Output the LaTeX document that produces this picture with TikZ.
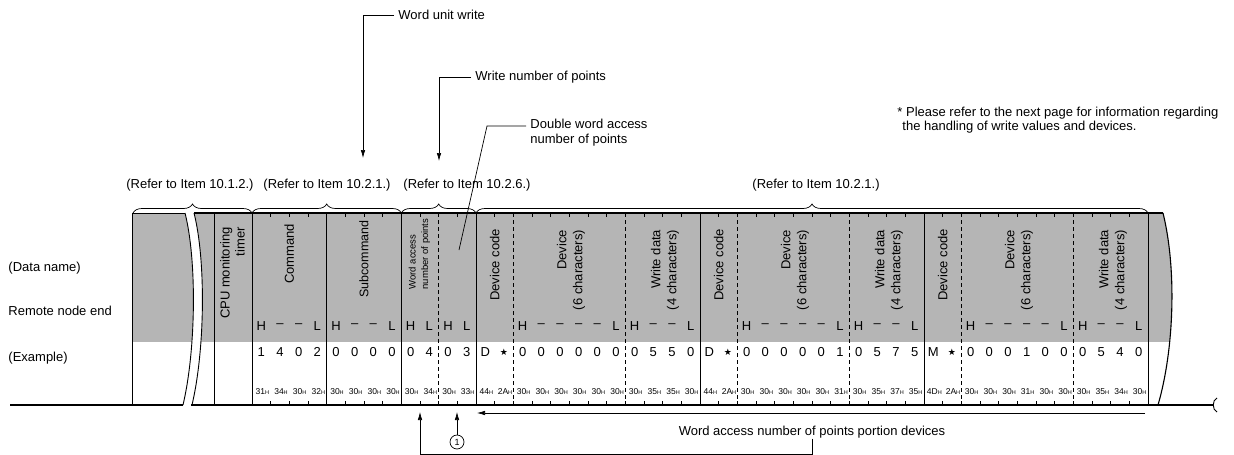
\documentclass[tikz,border=0pt]{standalone}
\usepackage{fontspec}
\setmainfont{Liberation Sans}
\newfontfamily\symfont{DejaVu Sans}
\usetikzlibrary{arrows.meta,decorations.pathreplacing}

\newcommand{\hexH}[1]{#1{\fontsize{5.5}{5.5}\selectfont H}}
\newcommand{\hldash}{\textendash}
\newcommand{\blackstar}{{\symfont\fontsize{9}{9}\selectfont ★}}

\tikzset{
    txt/.style={inner sep=0pt, font=\fontsize{13}{14}\selectfont},
    callout/.style={txt, anchor=west, inner xsep=4pt},
    fieldname/.style={rotate=90, inner sep=0pt, font=\fontsize{13}{16}\selectfont},
    hexval/.style={inner sep=0pt, font=\fontsize{8.5}{9}\selectfont},
    band/.style={fill=black!29},
    fieldsep/.style={line width=0.9pt},
    subfieldsep/.style={line width=0.9pt, dash pattern=on 4pt off 3pt},
    refbrace/.style={decorate, decoration={brace, amplitude=9pt}, line width=0.7pt},
    pointer/.style={line width=0.7pt, -{Latex[length=8pt,width=4.5pt]}},
}

\begin{document}
\begin{tikzpicture}[x=1pt, y=-1pt, line width=0.9pt]
    \useasboundingbox (0,0) rectangle (1234,455);

    % shaded header band and its torn right end
    \fill[band] (132,213) rectangle (1148,342);
    \fill[band] (1148,213) -- (1163,213) .. controls (1177,270) and (1174,350) .. (1158,405) -- (1148,405) -- cycle;
    \fill[white] (1148,342) rectangle (1182,406);

    % break in the frame
    \fill[white] (185,213) .. controls (197,260) and (196,350) .. (183,405) -- (192,405) .. controls (205,350) and (206,260) .. (194,213) -- cycle;

    % frame
    \draw (185,213) -- (132,213) -- (132,405);
    \draw[line width=1.3pt] (194,213) -- (1163,213);
    \draw[line width=1.8pt] (10,405) -- (183,405);
    \draw[line width=1.8pt] (191,405) -- (1213,405);
    \draw (1217,398) .. controls (1212,400) and (1212,410) .. (1217,412);
    \draw (185,213) .. controls (197,260) and (196,350) .. (183,405);
    \draw (194,213) .. controls (206,260) and (205,350) .. (192,405);
    \draw[line width=1.1pt] (1163,213) .. controls (1177,270) and (1174,350) .. (1158,405);

    % field separators
    \foreach \x in {214.67,252,326.67,401.33,476,700,924,1148}
        \draw[fieldsep] (\x,213) -- (\x,405);
    \foreach \x in {438.67,513.33,625.33,737.33,849.33,961.33,1073.33}
        \draw[subfieldsep] (\x,213) -- (\x,405);

    % character ticks
    \foreach \k in {0,...,48} {
        \draw[line width=0.6pt] ({252+18.667*\k},213) -- ++(0,4);
        \draw[line width=0.6pt] ({252+18.667*\k},405) -- ++(0,-4);
    }

    % reference braces
    \draw[refbrace] (133,213) -- (252,213);
    \draw[refbrace] (252,213) -- (401.33,213);
    \draw[refbrace] (401.33,213) -- (476,213);
    \draw[refbrace] (476,213) -- (1148,213);
    \node[txt] (ref1) at (190,185) {(Refer to Item 10.1.2.)};
    \node[txt] (ref2) at (327,185) {(Refer to Item 10.2.1.)};
    \node[txt] (ref3) at (467,185) {(Refer to Item 10.2.6.)};
    \node[txt] (ref4) at (816,185) {(Refer to Item 10.2.1.)};

    % row names
    \node[txt, anchor=west] (dname) at (8,268) {(Data name)};
    \node[txt, anchor=west] (rnode) at (8,311) {Remote node end};
    \node[txt, anchor=west] (exmpl) at (8,358) {(Example)};

    % field names
    \node[fieldname, align=right, font=\fontsize{13}{15}\selectfont] (cpu) at (232.5,273) {CPU monitoring\\timer};
    \node[fieldname] (cmd) at (289.3,254) {Command};
    \node[fieldname, font=\fontsize{12.5}{15}\selectfont] (subcmd) at (364,259) {Subcommand};
    \node[fieldname, align=left, font=\fontsize{9.5}{12.5}\selectfont] (wapts) at (419.5,254) {Word access\\number of points};
    \foreach \g in {0,1,2} {
        \begin{scope}[shift={({224*\g},0)}]
            \node[fieldname] (dc\g) at (494.7,265) {Device code};
            \node[fieldname, align=right] (dev\g) at (571,270) {Device\\(6 characters)};
            \node[fieldname, align=right] (wd\g) at (665,270) {Write data\\(4 characters)};
        \end{scope}
    }

    % H / L row
    \foreach \c [count=\i from 0] in {H,\hldash,\hldash,L, H,\hldash,\hldash,L, H,L,H,L,
            {},{},H,\hldash,\hldash,\hldash,\hldash,L,H,\hldash,\hldash,L,
            {},{},H,\hldash,\hldash,\hldash,\hldash,L,H,\hldash,\hldash,L,
            {},{},H,\hldash,\hldash,\hldash,\hldash,L,H,\hldash,\hldash,L}
        \node[txt] (hl\i) at ({252+18.667*(\i+0.5)},326) {\c};

    % example row
    \foreach \c [count=\i from 0] in {1,4,0,2, 0,0,0,0, 0,4,0,3,
            D,\blackstar,0,0,0,0,0,0,0,5,5,0,
            D,\blackstar,0,0,0,0,0,1,0,5,7,5,
            M,\blackstar,0,0,0,1,0,0,0,5,4,0}
        \node[txt] (ex\i) at ({252+18.667*(\i+0.5)},352) {\c};

    % hex row
    \foreach \c [count=\i from 0] in {31,34,30,32, 30,30,30,30, 30,34,30,33,
            44,2A,30,30,30,30,30,30,30,35,35,30,
            44,2A,30,30,30,30,30,31,30,35,37,35,
            4D,2A,30,30,30,31,30,30,30,35,34,30}
        \node[hexval] (hx\i) at ({252+18.667*(\i+0.5)+1},392) {\hexH{\c}};

    % callouts above
    \node[callout] (wuw) at (394,15) {Word unit write};
    \coordinate (wuwtip) at (363,158);
    \draw[pointer] (wuw.west) -| (wuwtip);

    \node[callout] (wnp) at (471,77) {Write number of points};
    \coordinate (wnptip) at (439,161);
    \draw[pointer] (wnp.west) -| (wnptip);

    \node[callout, align=left, font=\fontsize{13}{15}\selectfont] (dwa) at (526,133) {Double word access\\number of points};
    \coordinate (dwknee) at (487,126);
    \coordinate (dwend) at (459,250);
    \draw[line width=0.7pt] (dwa.west |- dwknee) -- (dwknee) -- (dwend);

    \node[txt, anchor=west, align=left] (note) at (897,120) {* Please refer to the next page for information regarding\\\hspace*{5pt}the handling of write values and devices.};

    % callouts below
    \coordinate (devR) at (1145,413);
    \coordinate (devL) at (477,413);
    \draw[pointer] (devR) -- (devL);
    \node[txt] (wapd) at (812,432) {Word access number of points portion devices};
    \node[circle, draw, line width=0.7pt, inner sep=0pt, minimum size=14pt, font=\fontsize{9}{9}\selectfont] (one) at (457,442) {1};
    \coordinate (onetip) at (457,412);
    \draw[pointer] (one) -- (onetip);
    \coordinate (wordtip) at (420,412);
    \draw[pointer] (wapd.south) -- ++(0,16) -| (wordtip);
\end{tikzpicture}
\end{document}
